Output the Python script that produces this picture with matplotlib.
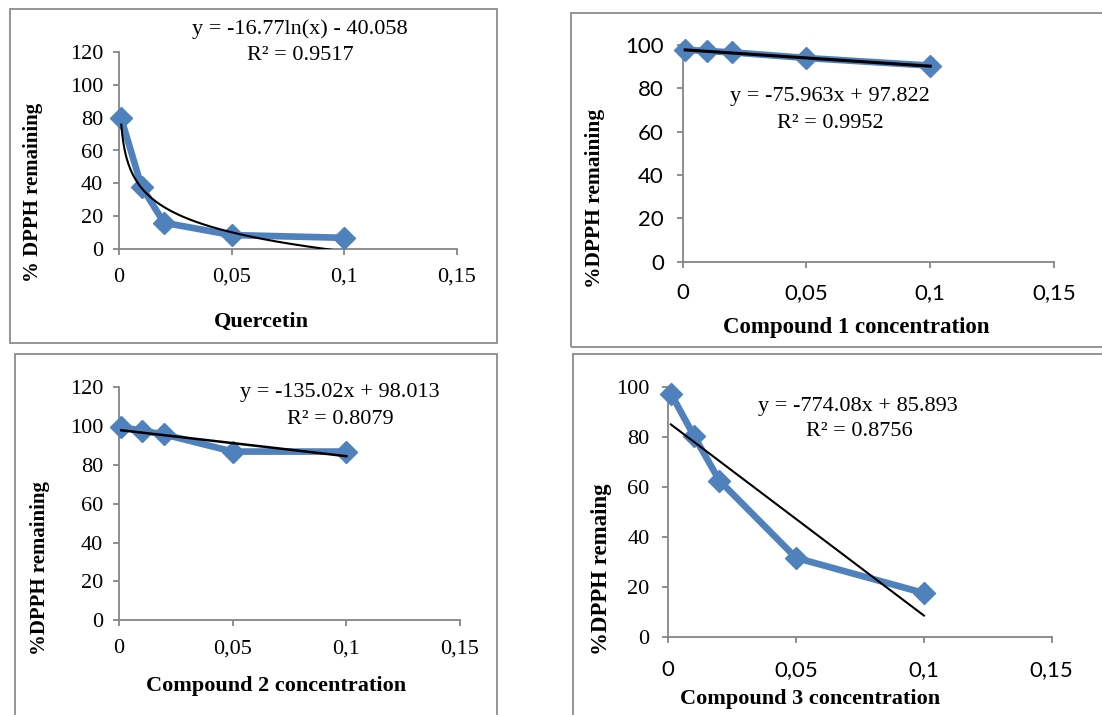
import numpy as np
import matplotlib
matplotlib.use("Agg")
import matplotlib.pyplot as plt
from matplotlib.patches import Rectangle

# ---------------- data ----------------
conc = [0.001, 0.01, 0.02, 0.05, 0.1]
quercetin = [79.5, 38.0, 16.0, 8.5, 6.8]
compound1 = [97.8, 97.2, 96.6, 94.0, 90.5]
compound2 = [99.6, 97.6, 95.7, 86.9, 86.9]
compound3 = [97.5, 80.6, 62.6, 31.6, 17.5]

# trendline coefficients as printed on the chart
q_log_a, q_log_b = -16.77, -40.058
c1_m, c1_b = -75.963, 97.822
c2_m, c2_b = -135.02, 98.013
c3_m, c3_b = -774.08, 85.893

xticks = [0, 0.05, 0.1, 0.15]
xticklabels = ["0", "0,05", "0,1", "0,15"]

W, H = 1102, 715
fig = plt.figure(figsize=(W / 100, H / 100), dpi=100)
fig.patch.set_facecolor("white")

BLUE = "#4F81BD"
GRAY = "#868686"
SERIF = "Liberation Serif"
SANS = "Lato"


def add_ax(left, right, y0px, ytop_px):
    return fig.add_axes([left / W, 1 - y0px / H, (right - left) / W, (y0px - ytop_px) / H])


def fig_text(x, y, s, **kw):
    fig.text(x / W, 1 - y / H, s, ha="center", va="center", **kw)


def border(x0, y0, x1, y1):
    r = Rectangle((x0 / W, 1 - y1 / H), (x1 - x0) / W, (y1 - y0) / H,
                  transform=fig.transFigure, fill=False, edgecolor="#8c8c8c",
                  linewidth=1.3, clip_on=False)
    fig.patches.append(r)


def style(ax, ymax, xfont, yfont, xpad, ypad):
    ax.set_xlim(0, 0.15)
    ax.set_ylim(0, ymax)
    ax.set_xticks(xticks)
    ax.set_xticklabels(xticklabels)
    ax.set_yticks(np.arange(0, ymax + 1, 20))
    for s in ["top", "right"]:
        ax.spines[s].set_visible(False)
    for s in ["left", "bottom"]:
        ax.spines[s].set_color(GRAY)
        ax.spines[s].set_linewidth(1.3)
    ax.tick_params(axis="both", direction="out", length=4.5, width=1.3, color=GRAY)
    ax.tick_params(axis="x", pad=xpad)
    ax.tick_params(axis="y", pad=ypad)
    for lab in ax.get_xticklabels():
        lab.set_fontfamily(xfont)
        lab.set_fontsize(16)
        lab.set_color("black")
    for lab in ax.get_yticklabels():
        lab.set_fontfamily(yfont)
        lab.set_fontsize(16)
        lab.set_color("black")
    ax.patch.set_alpha(0)


def series(ax, y):
    ax.plot(conc, y, color=BLUE, linewidth=4.8, marker="D", markersize=11.5,
            markerfacecolor=BLUE, markeredgecolor=BLUE, zorder=3, clip_on=False)


# ---------------- panel 1: Quercetin ----------------
border(10, 9, 497, 343)
ax1 = add_ax(119, 457, 249, 52)
style(ax1, 120, SERIF, SERIF, 9, 7)
series(ax1, quercetin)
xs = np.linspace(conc[0], conc[-1], 400)
ax1.plot(xs, q_log_a * np.log(xs) + q_log_b, color="black", linewidth=1.5, zorder=4)
fig_text(300, 29, "y = -16.77ln(x) - 40.058", fontfamily=SERIF, fontsize=16)
fig_text(300, 55, "R² = 0.9517", fontfamily=SERIF, fontsize=16)
fig_text(261, 322, "Quercetin", fontfamily=SERIF, fontsize=16, fontweight="bold")
fig_text(33, 192, "% DPPH remaining", fontfamily=SERIF, fontsize=15, fontweight="bold", rotation=90)

# ---------------- panel 2: Compound 1 ----------------
border(571, 13, 1110, 347)
ax2 = add_ax(682.7, 1054, 261.7, 45)
style(ax2, 100, SANS, SANS, 11, 9)
series(ax2, compound1)
xl = np.array([conc[0], conc[-1]])
ax2.plot(xl, c1_m * xl + c1_b, color="black", linewidth=2.2, zorder=4)
fig_text(830, 97, "y = -75.963x + 97.822", fontfamily=SERIF, fontsize=16)
fig_text(830, 124, "R² = 0.9952", fontfamily=SERIF, fontsize=16)
fig_text(856, 328, "Compound 1 concentration", fontfamily=SERIF, fontsize=16.5, fontweight="bold")
fig_text(595, 198, "%DPPH remaining", fontfamily=SERIF, fontsize=15.5, fontweight="bold", rotation=90)

# ---------------- panel 3: Compound 2 ----------------
border(15, 354, 497, 725)
ax3 = add_ax(119, 460, 620.3, 387.3)
style(ax3, 120, SERIF, SERIF, 9, 7)
series(ax3, compound2)
ax3.plot(xl, c2_m * xl + c2_b, color="black", linewidth=1.8, zorder=4)
fig_text(340, 393, "y = -135.02x + 98.013", fontfamily=SERIF, fontsize=16)
fig_text(340, 419, "R² = 0.8079", fontfamily=SERIF, fontsize=16)
fig_text(276, 686, "Compound 2 concentration", fontfamily=SERIF, fontsize=16, fontweight="bold")
fig_text(40, 568, "%DPPH remaining", fontfamily=SERIF, fontsize=15, fontweight="bold", rotation=90)

# ---------------- panel 4: Compound 3 ----------------
border(573, 354, 1110, 725)
ax4 = add_ax(668.3, 1051.7, 636.7, 387.3)
style(ax4, 100, SANS, SERIF, 12, 9)
series(ax4, compound3)
ax4.plot(xl, c3_m * xl + c3_b, color="black", linewidth=1.5, zorder=4)
fig_text(858, 406, "y = -774.08x + 85.893", fontfamily=SERIF, fontsize=16)
fig_text(859, 432, "R² = 0.8756", fontfamily=SERIF, fontsize=16)
fig_text(810, 699, "Compound 3 concentration", fontfamily=SERIF, fontsize=16, fontweight="bold")
fig_text(602, 569, "%DPPH remaing", fontfamily=SERIF, fontsize=16.5, fontweight="bold", rotation=90)

fig.savefig("out.png", dpi=100, facecolor="white")
